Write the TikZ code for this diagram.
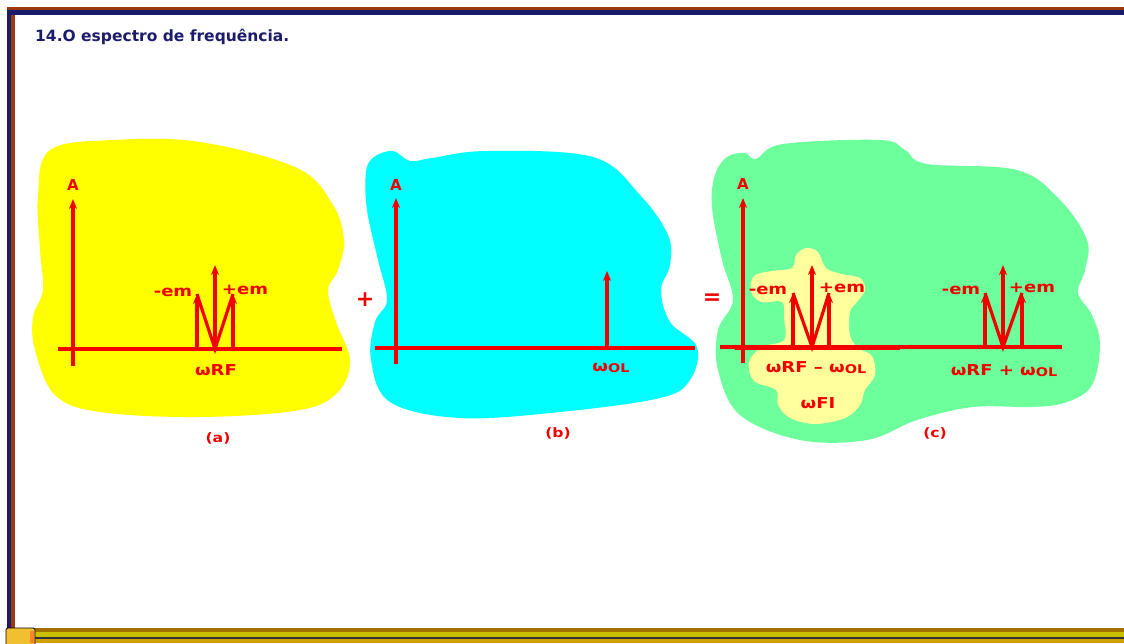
\documentclass[tikz,border=0pt]{standalone}
\usepackage{fontspec}
\setmainfont{DejaVu Sans}
\newfontfamily\handfont[FakeStretch=1.2]{DejaVu Sans}
\usetikzlibrary{arrows.meta}
\definecolor{pen}{HTML}{F20000}
\definecolor{navy}{HTML}{1C1C6C}
\definecolor{framebrown}{HTML}{9A3A10}
\definecolor{blobyellow}{HTML}{FFFF00}
\definecolor{blobcyan}{HTML}{00FFFF}
\definecolor{blobgreen}{HTML}{6CFF9C}
\definecolor{paleyellow}{HTML}{FFFF9C}
\definecolor{bargold}{HTML}{A07000}
\definecolor{barolive}{HTML}{C8C000}
\definecolor{bargold2}{HTML}{D0A000}
\definecolor{iconyellow}{HTML}{F0C030}
\definecolor{iconorange}{HTML}{FF8030}
\tikzset{
  axis/.style={pen, line width=3.2pt, -{Stealth[length=10pt,width=8pt]}},
  plainline/.style={pen, line width=3.2pt},
  spike/.style={pen, line width=3.2pt, -{Stealth[length=10pt,width=8pt]}},
  hand/.style={text=pen, font=\handfont\bfseries\fontsize{15}{15}\selectfont, inner sep=0pt},
  small/.style={text=pen, font=\handfont\bfseries\fontsize{13}{13}\selectfont, inner sep=0pt},
  amp/.style={text=pen, font=\bfseries\fontsize{15}{15}\selectfont, inner sep=0pt},
  blob/.style={smooth cycle, tension=0.6}
}
\newcommand{\wol}{ω\raisebox{-1pt}{\fontsize{12}{12}\selectfont OL}}
\begin{document}
\begin{tikzpicture}[x=1pt,y=-1pt]
\useasboundingbox (0,0) rectangle (1124,643);
\fill[white] (0,0) rectangle (1124,643);
% frame
\fill[framebrown] (7,7) rectangle (1124,10);
\fill[navy] (7,10) rectangle (1124,15);
\fill[navy] (7,10) rectangle (11,643);
\fill[framebrown] (11,15) rectangle (15,628);
% bottom bar
\fill[bargold] (11,628) rectangle (1124,632);
\fill[barolive] (11,632) rectangle (1124,637);
\fill[black!80] (11,637) rectangle (1124,638.5);
\fill[bargold2] (11,638.5) rectangle (1124,643);
\filldraw[fill=iconyellow, draw=black, line width=0.8pt, rounded corners=1.5pt] (6,628) rectangle (35,646);
\fill[iconorange] (30,631) rectangle (34,643);
% title
\node[anchor=base west, text=navy, font=\bfseries\fontsize{15.5}{15.5}\selectfont, inner sep=0pt] (title) at (35,41) {14.O espectro de frequência.};

% blobs
\fill[blobyellow] plot[blob] coordinates {(50,150) (113,140) (200,142) (297,168) (333,205) (344,240) (338,270) (328,290) (336,322) (350,360) (338,392) (300,410) (200,417) (100,412) (55,395) (35,350) (33,317) (43,290) (40,250) (38,195)};
\fill[blobcyan] plot[blob] coordinates {(374,157) (393,151) (410,161) (432,158) (487,151) (593,157) (640,195) (668,235) (670,265) (661,290) (670,322) (697,347) (690,380) (660,398) (560,412) (460,418) (390,402) (371,360) (375,322) (387,300) (378,260) (367,210) (366,172)};
\fill[blobgreen] plot[blob] coordinates {(727,157) (745,153) (756,159) (783,144) (880,140) (905,150) (927,164) (1017,170) (1060,200) (1087,240) (1085,270) (1078,293) (1092,315) (1100,345) (1092,385) (1067,402) (1033,407) (973,407) (917,420) (867,440) (800,440) (740,415) (718,370) (718,330) (733,300) (722,260) (712,207) (715,175)};
\fill[paleyellow] plot[blob] coordinates {(806,248) (818,252) (826,268) (842,274) (860,278) (865,290) (857,302) (850,312) (850,335) (858,348) (872,356) (875,375) (865,390) (860,405) (845,418) (815,424) (790,418) (778,405) (776,390) (754,381) (749,362) (762,347) (784,340) (784,318) (782,302) (762,302) (751,292) (754,276) (772,271) (792,268) (796,255)};

% ---------- (a) ----------
\coordinate (aO) at (73,366); \coordinate (aT) at (73,199);
\coordinate (aL) at (58,349); \coordinate (aR) at (342,349);
\draw[plainline] (aL) -- (aR);
\draw[axis] (aO) -- (aT);
\node[amp] (aA) at (73,185) {A};
\coordinate (a1) at (197,349); \coordinate (a1t) at (197,294);
\coordinate (a2) at (215,349); \coordinate (a2t) at (215,265);
\coordinate (a3) at (233,349); \coordinate (a3t) at (233,294);
\draw[spike] (a1) -- (a1t);
\draw[spike] (a2) -- (a2t);
\draw[spike] (a3) -- (a3t);
\draw[plainline] (a1t) -- (a2) -- (a3t);
\node[hand] (aminus) at (173,292) {-em};
\node[hand] (aplus) at (245,290) {+em};
\node[hand] (awrf) at (216,370) {ωRF};
\node[small] (alab) at (218,438) {(a)};

% plus sign
\node[text=pen, font=\bfseries\fontsize{22}{22}\selectfont, inner sep=0pt] (plus) at (365,300) {+};

% ---------- (b) ----------
\coordinate (bO) at (396,364); \coordinate (bT) at (396,198);
\coordinate (bL) at (375,348); \coordinate (bR) at (695,348);
\draw[plainline] (bL) -- (bR);
\draw[axis] (bO) -- (bT);
\node[amp] (bA) at (396,185) {A};
\coordinate (b1) at (607,348); \coordinate (b1t) at (607,271);
\draw[spike] (b1) -- (b1t);
\node[hand] (bwol) at (611,368) {\wol};
\node[small] (blab) at (558,433) {(b)};

% equals sign
\node[text=pen, font=\bfseries\fontsize{22}{22}\selectfont, inner sep=0pt] (eq) at (712,299) {=};

% ---------- (c) ----------
\coordinate (cO) at (743,363); \coordinate (cT) at (743,198);
\coordinate (cL) at (720,347); \coordinate (cR) at (1062,347);
\coordinate (cK1) at (735,347); \coordinate (cK2) at (900,347);
\draw[plainline] (cL) -- (cR);
\draw[pen, line width=5pt] (cK1) -- (cK2);
\draw[axis] (cO) -- (cT);
\node[amp] (cA) at (743,184) {A};
% lower group
\coordinate (c1) at (793,347); \coordinate (c1t) at (793,293);
\coordinate (c2) at (812,347); \coordinate (c2t) at (812,265);
\coordinate (c3) at (829,347); \coordinate (c3t) at (829,293);
\draw[spike] (c1) -- (c1t);
\draw[spike] (c2) -- (c2t);
\draw[spike] (c3) -- (c3t);
\draw[plainline] (c1t) -- (c2) -- (c3t);
\node[hand] (cminus1) at (768,290) {-em};
\node[hand] (cplus1) at (842,288) {+em};
% upper group
\coordinate (d1) at (985,347); \coordinate (d1t) at (985,293);
\coordinate (d2) at (1003,347); \coordinate (d2t) at (1003,265);
\coordinate (d3) at (1022,347); \coordinate (d3t) at (1022,293);
\draw[spike] (d1) -- (d1t);
\draw[spike] (d2) -- (d2t);
\draw[spike] (d3) -- (d3t);
\draw[plainline] (d1t) -- (d2) -- (d3t);
\node[hand] (cminus2) at (961,290) {-em};
\node[hand] (cplus2) at (1032,288) {+em};
\node[hand] (cdiff) at (816,368) {ωRF – \wol};
\node[hand] (cfi) at (818,403) {ωFI};
\node[hand] (csum) at (1004,371) {ωRF + \wol};
\node[small] (clab) at (935,433) {(c)};
\end{tikzpicture}
\end{document}
